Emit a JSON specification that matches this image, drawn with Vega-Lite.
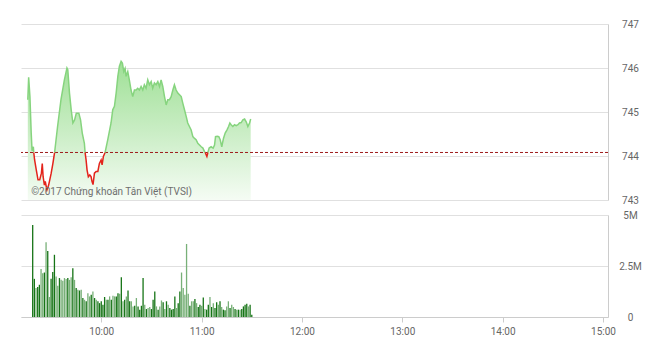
{
  "$schema": "https://vega.github.io/schema/vega-lite/v6.json",
  "padding": {"left": 20, "top": 19, "right": 0, "bottom": 0},
  "background": "white",
  "spacing": 15,
  "bounds": "flush",
  "resolve": {"scale": {"color": "independent"}},
  "config": {
    "view": {"stroke": null},
    "axis": {"labelFont": "Roboto", "labelFontSize": 10, "labelColor": "#666", "gridColor": "#e0e0e0", "domainColor": "#cccccc", "title": null}
  },
  "vconcat": [
    {
      "width": 587,
      "height": 176,
      "layer": [
        {
          "data": {"name": "price"},
          "mark": {"type": "area", "color": {"gradient": "linear", "x1": 0, "y1": 0, "x2": 0, "y2": 1, "stops": [{"offset": 0, "color": "#9fe096"}, {"offset": 0.5, "color": "#c9edc4"}, {"offset": 1, "color": "#f5fcf4"}]}},
          "encoding": {
            "x": {"field": "t", "type": "temporal", "scale": {"domain": [{"year": 2017, "month": 6, "date": 1, "hours": 9, "minutes": 15}, {"year": 2017, "month": 6, "date": 1, "hours": 15}]}, "axis": null},
            "y": {"field": "p", "type": "quantitative", "scale": {"domain": [743, 747], "zero": false, "nice": false},
              "axis": {"orient": "right", "values": [743, 744, 745, 746, 747], "grid": true, "ticks": false, "domain": true, "labelAlign": "center", "labelPadding": 22, "labelBaseline": "middle"}},
            "y2": {"datum": 743}
          }
        },
        {
          "data": {"values": [{}]},
          "mark": {"type": "rule", "color": "#9e1b1b", "strokeDash": [3, 2], "strokeWidth": 1},
          "encoding": {"y": {"datum": 744.08}}
        },
        {
          "data": {"name": "price"},
          "mark": {"type": "line", "strokeWidth": 1.5},
          "encoding": {
            "x": {"field": "t", "type": "temporal"},
            "y": {"field": "p", "type": "quantitative"},
            "color": {"field": "g", "type": "nominal", "scale": {"domain": ["g1", "r1", "g2", "r2", "g3", "r3", "g4"], "range": ["#86d47e", "#e3231b", "#86d47e", "#e3231b", "#86d47e", "#e3231b", "#86d47e"]}, "legend": null}
          }
        },
        {
          "data": {"values": [{}]},
          "mark": {"type": "text", "text": "©2017 Chứng khoán Tân Việt (TVSI)", "align": "left", "baseline": "middle", "font": "Roboto", "fontSize": 10, "color": "#6e6e6e"},
          "encoding": {
            "x": {"datum": {"year": 2017, "month": 6, "date": 1, "hours": 9, "minutes": 21}, "type": "temporal"},
            "y": {"datum": 743.18}
          }
        }
      ]
    },
    {
      "width": 587,
      "height": 102,
      "data": {"name": "volume"},
      "mark": {"type": "bar", "size": 1.3},
      "encoding": {
        "x": {"field": "t", "type": "temporal",
          "scale": {"domain": [{"year": 2017, "month": 6, "date": 1, "hours": 9, "minutes": 15}, {"year": 2017, "month": 6, "date": 1, "hours": 15}]},
          "axis": {"values": [
            {"year": 2017, "month": 6, "date": 1, "hours": 10},
            {"year": 2017, "month": 6, "date": 1, "hours": 11},
            {"year": 2017, "month": 6, "date": 1, "hours": 12},
            {"year": 2017, "month": 6, "date": 1, "hours": 13},
            {"year": 2017, "month": 6, "date": 1, "hours": 14},
            {"year": 2017, "month": 6, "date": 1, "hours": 15}],
            "format": "%H:%M", "grid": false, "ticks": true, "tickSize": 5, "tickColor": "#cccccc", "domain": true, "labelPadding": 4, "labelFlush": false, "labelOverlap": false}},
        "y": {"field": "v", "type": "quantitative", "scale": {"domain": [0, 5], "nice": false},
          "axis": {"orient": "right", "values": [0, 2.5, 5], "labelExpr": "datum.value == 0 ? '0' : datum.value + 'M'", "grid": true, "ticks": false, "domain": true, "labelAlign": "center", "labelPadding": 22, "labelBaseline": "middle"}},
        "color": {"field": "c", "type": "nominal", "scale": {"domain": ["d", "l"], "range": ["#167416", "#78b078"]}, "legend": null}
      }
    }
  ],
  "datasets": {
    "price": [
      {"g": "g1", "t": "2017-06-01T09:19:00", "p": 745.28},
      {"g": "g1", "t": "2017-06-01T09:19:30", "p": 745.79},
      {"g": "g1", "t": "2017-06-01T09:20:15", "p": 745.35},
      {"g": "g1", "t": "2017-06-01T09:21:00", "p": 744.52},
      {"g": "g1", "t": "2017-06-01T09:21:30", "p": 744.12},
      {"g": "g1", "t": "2017-06-01T09:22:15", "p": 744.21},
      {"g": "g1", "t": "2017-06-01T09:22:30", "p": 744.08},
      {"g": "r1", "t": "2017-06-01T09:22:30", "p": 744.08},
      {"g": "r1", "t": "2017-06-01T09:23:00", "p": 743.91},
      {"g": "r1", "t": "2017-06-01T09:24:00", "p": 743.68},
      {"g": "r1", "t": "2017-06-01T09:25:00", "p": 743.46},
      {"g": "r1", "t": "2017-06-01T09:26:00", "p": 743.46},
      {"g": "r1", "t": "2017-06-01T09:27:00", "p": 743.61},
      {"g": "r1", "t": "2017-06-01T09:27:30", "p": 743.83},
      {"g": "r1", "t": "2017-06-01T09:28:00", "p": 743.53},
      {"g": "r1", "t": "2017-06-01T09:28:45", "p": 743.34},
      {"g": "r1", "t": "2017-06-01T09:29:15", "p": 743.42},
      {"g": "r1", "t": "2017-06-01T09:30:15", "p": 743.23},
      {"g": "r1", "t": "2017-06-01T09:31:15", "p": 743.34},
      {"g": "r1", "t": "2017-06-01T09:32:45", "p": 743.61},
      {"g": "r1", "t": "2017-06-01T09:33:45", "p": 743.83},
      {"g": "r1", "t": "2017-06-01T09:34:45", "p": 744.08},
      {"g": "g2", "t": "2017-06-01T09:34:45", "p": 744.08},
      {"g": "g2", "t": "2017-06-01T09:36:30", "p": 744.67},
      {"g": "g2", "t": "2017-06-01T09:38:30", "p": 745.28},
      {"g": "g2", "t": "2017-06-01T09:40:30", "p": 745.73},
      {"g": "g2", "t": "2017-06-01T09:42:00", "p": 746.0},
      {"g": "g2", "t": "2017-06-01T09:42:30", "p": 745.96},
      {"g": "g2", "t": "2017-06-01T09:43:30", "p": 745.43},
      {"g": "g2", "t": "2017-06-01T09:44:30", "p": 745.05},
      {"g": "g2", "t": "2017-06-01T09:45:30", "p": 744.75},
      {"g": "g2", "t": "2017-06-01T09:46:30", "p": 744.82},
      {"g": "g2", "t": "2017-06-01T09:47:30", "p": 744.97},
      {"g": "g2", "t": "2017-06-01T09:49:00", "p": 744.97},
      {"g": "g2", "t": "2017-06-01T09:50:00", "p": 744.82},
      {"g": "g2", "t": "2017-06-01T09:51:00", "p": 744.52},
      {"g": "g2", "t": "2017-06-01T09:52:15", "p": 744.29},
      {"g": "g2", "t": "2017-06-01T09:52:40", "p": 744.08},
      {"g": "r2", "t": "2017-06-01T09:52:40", "p": 744.08},
      {"g": "r2", "t": "2017-06-01T09:53:15", "p": 743.91},
      {"g": "r2", "t": "2017-06-01T09:53:50", "p": 743.68},
      {"g": "r2", "t": "2017-06-01T09:54:35", "p": 743.53},
      {"g": "r2", "t": "2017-06-01T09:55:25", "p": 743.57},
      {"g": "r2", "t": "2017-06-01T09:56:10", "p": 743.53},
      {"g": "r2", "t": "2017-06-01T09:56:45", "p": 743.42},
      {"g": "r2", "t": "2017-06-01T09:57:20", "p": 743.35},
      {"g": "r2", "t": "2017-06-01T09:58:10", "p": 743.61},
      {"g": "r2", "t": "2017-06-01T09:59:10", "p": 743.65},
      {"g": "r2", "t": "2017-06-01T10:00:10", "p": 743.65},
      {"g": "r2", "t": "2017-06-01T10:01:05", "p": 743.83},
      {"g": "r2", "t": "2017-06-01T10:02:05", "p": 743.91},
      {"g": "r2", "t": "2017-06-01T10:02:40", "p": 743.8},
      {"g": "r2", "t": "2017-06-01T10:03:25", "p": 743.99},
      {"g": "r2", "t": "2017-06-01T10:04:25", "p": 744.08},
      {"g": "g3", "t": "2017-06-01T10:04:25", "p": 744.08},
      {"g": "g3", "t": "2017-06-01T10:06:00", "p": 744.37},
      {"g": "g3", "t": "2017-06-01T10:07:55", "p": 744.75},
      {"g": "g3", "t": "2017-06-01T10:08:55", "p": 745.05},
      {"g": "g3", "t": "2017-06-01T10:09:55", "p": 745.13},
      {"g": "g3", "t": "2017-06-01T10:10:55", "p": 745.43},
      {"g": "g3", "t": "2017-06-01T10:11:55", "p": 745.81},
      {"g": "g3", "t": "2017-06-01T10:12:50", "p": 746.04},
      {"g": "g3", "t": "2017-06-01T10:13:50", "p": 746.15},
      {"g": "g3", "t": "2017-06-01T10:14:35", "p": 746.11},
      {"g": "g3", "t": "2017-06-01T10:15:25", "p": 745.92},
      {"g": "g3", "t": "2017-06-01T10:16:10", "p": 745.99},
      {"g": "g3", "t": "2017-06-01T10:16:45", "p": 745.81},
      {"g": "g3", "t": "2017-06-01T10:17:45", "p": 745.92},
      {"g": "g3", "t": "2017-06-01T10:18:40", "p": 745.73},
      {"g": "g3", "t": "2017-06-01T10:19:40", "p": 745.5},
      {"g": "g3", "t": "2017-06-01T10:20:40", "p": 745.35},
      {"g": "g3", "t": "2017-06-01T10:21:40", "p": 745.5},
      {"g": "g3", "t": "2017-06-01T10:22:40", "p": 745.5},
      {"g": "g3", "t": "2017-06-01T10:23:35", "p": 745.54},
      {"g": "g3", "t": "2017-06-01T10:24:35", "p": 745.5},
      {"g": "g3", "t": "2017-06-01T10:25:35", "p": 745.58},
      {"g": "g3", "t": "2017-06-01T10:26:35", "p": 745.5},
      {"g": "g3", "t": "2017-06-01T10:27:30", "p": 745.62},
      {"g": "g3", "t": "2017-06-01T10:28:30", "p": 745.54},
      {"g": "g3", "t": "2017-06-01T10:29:30", "p": 745.73},
      {"g": "g3", "t": "2017-06-01T10:30:30", "p": 745.62},
      {"g": "g3", "t": "2017-06-01T10:31:30", "p": 745.69},
      {"g": "g3", "t": "2017-06-01T10:32:25", "p": 745.54},
      {"g": "g3", "t": "2017-06-01T10:33:25", "p": 745.66},
      {"g": "g3", "t": "2017-06-01T10:34:25", "p": 745.62},
      {"g": "g3", "t": "2017-06-01T10:35:25", "p": 745.69},
      {"g": "g3", "t": "2017-06-01T10:36:25", "p": 745.58},
      {"g": "g3", "t": "2017-06-01T10:37:20", "p": 745.73},
      {"g": "g3", "t": "2017-06-01T10:38:20", "p": 745.58},
      {"g": "g3", "t": "2017-06-01T10:39:20", "p": 745.35},
      {"g": "g3", "t": "2017-06-01T10:40:20", "p": 745.16},
      {"g": "g3", "t": "2017-06-01T10:41:15", "p": 745.28},
      {"g": "g3", "t": "2017-06-01T10:42:15", "p": 745.28},
      {"g": "g3", "t": "2017-06-01T10:43:15", "p": 745.35},
      {"g": "g3", "t": "2017-06-01T10:44:15", "p": 745.5},
      {"g": "g3", "t": "2017-06-01T10:45:10", "p": 745.62},
      {"g": "g3", "t": "2017-06-01T10:46:10", "p": 745.5},
      {"g": "g3", "t": "2017-06-01T10:47:10", "p": 745.43},
      {"g": "g3", "t": "2017-06-01T10:48:10", "p": 745.39},
      {"g": "g3", "t": "2017-06-01T10:49:10", "p": 745.35},
      {"g": "g3", "t": "2017-06-01T10:50:05", "p": 745.2},
      {"g": "g3", "t": "2017-06-01T10:51:05", "p": 745.05},
      {"g": "g3", "t": "2017-06-01T10:52:05", "p": 744.9},
      {"g": "g3", "t": "2017-06-01T10:53:00", "p": 744.75},
      {"g": "g3", "t": "2017-06-01T10:54:00", "p": 744.67},
      {"g": "g3", "t": "2017-06-01T10:55:00", "p": 744.59},
      {"g": "g3", "t": "2017-06-01T10:56:00", "p": 744.44},
      {"g": "g3", "t": "2017-06-01T10:57:00", "p": 744.4},
      {"g": "g3", "t": "2017-06-01T10:57:55", "p": 744.37},
      {"g": "g3", "t": "2017-06-01T10:58:55", "p": 744.29},
      {"g": "g3", "t": "2017-06-01T10:59:55", "p": 744.25},
      {"g": "g3", "t": "2017-06-01T11:00:55", "p": 744.21},
      {"g": "g3", "t": "2017-06-01T11:01:55", "p": 744.18},
      {"g": "g3", "t": "2017-06-01T11:02:50", "p": 744.1},
      {"g": "g3", "t": "2017-06-01T11:03:15", "p": 744.08},
      {"g": "r3", "t": "2017-06-01T11:03:15", "p": 744.08},
      {"g": "r3", "t": "2017-06-01T11:04:15", "p": 743.99},
      {"g": "r3", "t": "2017-06-01T11:04:50", "p": 744.08},
      {"g": "g4", "t": "2017-06-01T11:04:50", "p": 744.08},
      {"g": "g4", "t": "2017-06-01T11:05:35", "p": 744.18},
      {"g": "g4", "t": "2017-06-01T11:06:45", "p": 744.21},
      {"g": "g4", "t": "2017-06-01T11:07:55", "p": 744.18},
      {"g": "g4", "t": "2017-06-01T11:08:45", "p": 744.25},
      {"g": "g4", "t": "2017-06-01T11:09:20", "p": 744.44},
      {"g": "g4", "t": "2017-06-01T11:10:20", "p": 744.45},
      {"g": "g4", "t": "2017-06-01T11:11:15", "p": 744.44},
      {"g": "g4", "t": "2017-06-01T11:12:05", "p": 744.37},
      {"g": "g4", "t": "2017-06-01T11:13:00", "p": 744.21},
      {"g": "g4", "t": "2017-06-01T11:14:00", "p": 744.4},
      {"g": "g4", "t": "2017-06-01T11:15:00", "p": 744.52},
      {"g": "g4", "t": "2017-06-01T11:16:00", "p": 744.59},
      {"g": "g4", "t": "2017-06-01T11:17:00", "p": 744.67},
      {"g": "g4", "t": "2017-06-01T11:17:45", "p": 744.75},
      {"g": "g4", "t": "2017-06-01T11:18:30", "p": 744.71},
      {"g": "g4", "t": "2017-06-01T11:19:30", "p": 744.67},
      {"g": "g4", "t": "2017-06-01T11:20:30", "p": 744.71},
      {"g": "g4", "t": "2017-06-01T11:21:30", "p": 744.69},
      {"g": "g4", "t": "2017-06-01T11:22:30", "p": 744.71},
      {"g": "g4", "t": "2017-06-01T11:23:25", "p": 744.75},
      {"g": "g4", "t": "2017-06-01T11:24:25", "p": 744.76},
      {"g": "g4", "t": "2017-06-01T11:25:25", "p": 744.82},
      {"g": "g4", "t": "2017-06-01T11:26:25", "p": 744.84},
      {"g": "g4", "t": "2017-06-01T11:27:25", "p": 744.77},
      {"g": "g4", "t": "2017-06-01T11:28:20", "p": 744.67},
      {"g": "g4", "t": "2017-06-01T11:29:20", "p": 744.75},
      {"g": "g4", "t": "2017-06-01T11:30:00", "p": 744.84}
    ],
    "volume": [
      {"t": "2017-06-01T09:19:00", "v": 4.51, "c": "d"},
      {"t": "2017-06-01T09:20:00", "v": 1.87, "c": "d"},
      {"t": "2017-06-01T09:21:00", "v": 1.42, "c": "l"},
      {"t": "2017-06-01T09:22:00", "v": 1.47, "c": "d"},
      {"t": "2017-06-01T09:23:00", "v": 1.58, "c": "d"},
      {"t": "2017-06-01T09:24:00", "v": 2.35, "c": "l"},
      {"t": "2017-06-01T09:25:00", "v": 2.15, "c": "l"},
      {"t": "2017-06-01T09:26:00", "v": 2.18, "c": "d"},
      {"t": "2017-06-01T09:27:00", "v": 3.66, "c": "l"},
      {"t": "2017-06-01T09:28:00", "v": 3.24, "c": "d"},
      {"t": "2017-06-01T09:29:00", "v": 0.98, "c": "l"},
      {"t": "2017-06-01T09:30:00", "v": 1.87, "c": "d"},
      {"t": "2017-06-01T09:31:00", "v": 2.2, "c": "d"},
      {"t": "2017-06-01T09:32:00", "v": 3.05, "c": "d"},
      {"t": "2017-06-01T09:33:00", "v": 1.99, "c": "l"},
      {"t": "2017-06-01T09:34:00", "v": 1.53, "c": "l"},
      {"t": "2017-06-01T09:35:00", "v": 1.91, "c": "d"},
      {"t": "2017-06-01T09:36:00", "v": 1.82, "c": "l"},
      {"t": "2017-06-01T09:37:00", "v": 1.78, "c": "l"},
      {"t": "2017-06-01T09:38:00", "v": 1.91, "c": "l"},
      {"t": "2017-06-01T09:39:00", "v": 1.86, "c": "l"},
      {"t": "2017-06-01T09:40:00", "v": 1.91, "c": "d"},
      {"t": "2017-06-01T09:41:00", "v": 1.82, "c": "l"},
      {"t": "2017-06-01T09:42:00", "v": 1.95, "c": "l"},
      {"t": "2017-06-01T09:43:00", "v": 2.39, "c": "d"},
      {"t": "2017-06-01T09:44:00", "v": 1.82, "c": "l"},
      {"t": "2017-06-01T09:45:00", "v": 1.42, "c": "d"},
      {"t": "2017-06-01T09:46:00", "v": 1.34, "c": "l"},
      {"t": "2017-06-01T09:47:00", "v": 1.3, "c": "d"},
      {"t": "2017-06-01T09:48:00", "v": 1.34, "c": "l"},
      {"t": "2017-06-01T09:49:00", "v": 0.93, "c": "d"},
      {"t": "2017-06-01T09:50:00", "v": 0.85, "c": "l"},
      {"t": "2017-06-01T09:51:00", "v": 0.77, "c": "d"},
      {"t": "2017-06-01T09:52:00", "v": 1.17, "c": "l"},
      {"t": "2017-06-01T09:53:00", "v": 1.01, "c": "l"},
      {"t": "2017-06-01T09:54:00", "v": 1.09, "c": "d"},
      {"t": "2017-06-01T09:55:00", "v": 1.25, "c": "l"},
      {"t": "2017-06-01T09:56:00", "v": 0.93, "c": "d"},
      {"t": "2017-06-01T09:57:00", "v": 0.85, "c": "l"},
      {"t": "2017-06-01T09:58:00", "v": 0.77, "c": "d"},
      {"t": "2017-06-01T09:59:00", "v": 0.68, "c": "d"},
      {"t": "2017-06-01T10:00:00", "v": 0.77, "c": "d"},
      {"t": "2017-06-01T10:01:00", "v": 0.6, "c": "d"},
      {"t": "2017-06-01T10:02:00", "v": 0.98, "c": "d"},
      {"t": "2017-06-01T10:03:00", "v": 0.85, "c": "l"},
      {"t": "2017-06-01T10:04:00", "v": 0.85, "c": "d"},
      {"t": "2017-06-01T10:05:00", "v": 1.01, "c": "l"},
      {"t": "2017-06-01T10:06:00", "v": 0.85, "c": "d"},
      {"t": "2017-06-01T10:07:00", "v": 1.04, "c": "l"},
      {"t": "2017-06-01T10:08:00", "v": 1.01, "c": "l"},
      {"t": "2017-06-01T10:09:00", "v": 1.01, "c": "d"},
      {"t": "2017-06-01T10:10:00", "v": 1.17, "c": "d"},
      {"t": "2017-06-01T10:11:00", "v": 1.14, "c": "l"},
      {"t": "2017-06-01T10:12:00", "v": 1.95, "c": "d"},
      {"t": "2017-06-01T10:13:00", "v": 0.77, "c": "l"},
      {"t": "2017-06-01T10:14:00", "v": 0.85, "c": "d"},
      {"t": "2017-06-01T10:15:00", "v": 1.01, "c": "l"},
      {"t": "2017-06-01T10:16:00", "v": 1.3, "c": "d"},
      {"t": "2017-06-01T10:17:00", "v": 0.77, "c": "d"},
      {"t": "2017-06-01T10:18:00", "v": 0.77, "c": "l"},
      {"t": "2017-06-01T10:19:00", "v": 0.52, "c": "l"},
      {"t": "2017-06-01T10:20:00", "v": 0.55, "c": "d"},
      {"t": "2017-06-01T10:21:00", "v": 0.93, "c": "l"},
      {"t": "2017-06-01T10:22:00", "v": 0.52, "c": "d"},
      {"t": "2017-06-01T10:23:00", "v": 0.36, "c": "d"},
      {"t": "2017-06-01T10:24:00", "v": 0.55, "c": "d"},
      {"t": "2017-06-01T10:25:00", "v": 1.91, "c": "d"},
      {"t": "2017-06-01T10:26:00", "v": 0.6, "c": "l"},
      {"t": "2017-06-01T10:27:00", "v": 0.39, "c": "d"},
      {"t": "2017-06-01T10:28:00", "v": 0.44, "c": "l"},
      {"t": "2017-06-01T10:29:00", "v": 0.49, "c": "l"},
      {"t": "2017-06-01T10:30:00", "v": 0.39, "c": "d"},
      {"t": "2017-06-01T10:31:00", "v": 0.85, "c": "d"},
      {"t": "2017-06-01T10:32:00", "v": 1.25, "c": "d"},
      {"t": "2017-06-01T10:33:00", "v": 0.52, "c": "l"},
      {"t": "2017-06-01T10:34:00", "v": 0.36, "c": "d"},
      {"t": "2017-06-01T10:35:00", "v": 0.52, "c": "l"},
      {"t": "2017-06-01T10:36:00", "v": 0.81, "c": "l"},
      {"t": "2017-06-01T10:37:00", "v": 0.72, "c": "d"},
      {"t": "2017-06-01T10:38:00", "v": 0.39, "c": "l"},
      {"t": "2017-06-01T10:39:00", "v": 0.77, "c": "d"},
      {"t": "2017-06-01T10:40:00", "v": 0.6, "c": "l"},
      {"t": "2017-06-01T10:41:00", "v": 0.44, "c": "d"},
      {"t": "2017-06-01T10:42:00", "v": 0.36, "c": "d"},
      {"t": "2017-06-01T10:43:00", "v": 0.39, "c": "d"},
      {"t": "2017-06-01T10:44:00", "v": 1.01, "c": "d"},
      {"t": "2017-06-01T10:45:00", "v": 0.44, "c": "l"},
      {"t": "2017-06-01T10:46:00", "v": 0.68, "c": "d"},
      {"t": "2017-06-01T10:47:00", "v": 1.25, "c": "d"},
      {"t": "2017-06-01T10:48:00", "v": 2.18, "c": "l"},
      {"t": "2017-06-01T10:49:00", "v": 1.42, "c": "l"},
      {"t": "2017-06-01T10:50:00", "v": 1.09, "c": "l"},
      {"t": "2017-06-01T10:51:00", "v": 3.58, "c": "l"},
      {"t": "2017-06-01T10:52:00", "v": 1.14, "c": "l"},
      {"t": "2017-06-01T10:53:00", "v": 0.55, "c": "d"},
      {"t": "2017-06-01T10:54:00", "v": 0.77, "c": "l"},
      {"t": "2017-06-01T10:55:00", "v": 0.77, "c": "l"},
      {"t": "2017-06-01T10:56:00", "v": 0.88, "c": "d"},
      {"t": "2017-06-01T10:57:00", "v": 0.68, "c": "l"},
      {"t": "2017-06-01T10:58:00", "v": 0.49, "c": "d"},
      {"t": "2017-06-01T10:59:00", "v": 0.6, "c": "d"},
      {"t": "2017-06-01T11:00:00", "v": 0.55, "c": "l"},
      {"t": "2017-06-01T11:01:00", "v": 0.96, "c": "d"},
      {"t": "2017-06-01T11:02:00", "v": 0.39, "c": "l"},
      {"t": "2017-06-01T11:03:00", "v": 0.36, "c": "d"},
      {"t": "2017-06-01T11:04:00", "v": 0.6, "c": "d"},
      {"t": "2017-06-01T11:05:00", "v": 0.98, "c": "l"},
      {"t": "2017-06-01T11:06:00", "v": 0.49, "c": "d"},
      {"t": "2017-06-01T11:07:00", "v": 0.68, "c": "l"},
      {"t": "2017-06-01T11:08:00", "v": 0.44, "c": "d"},
      {"t": "2017-06-01T11:09:00", "v": 0.72, "c": "d"},
      {"t": "2017-06-01T11:10:00", "v": 0.6, "c": "l"},
      {"t": "2017-06-01T11:11:00", "v": 0.77, "c": "d"},
      {"t": "2017-06-01T11:12:00", "v": 0.49, "c": "l"},
      {"t": "2017-06-01T11:13:00", "v": 0.36, "c": "d"},
      {"t": "2017-06-01T11:14:00", "v": 0.33, "c": "d"},
      {"t": "2017-06-01T11:15:00", "v": 0.52, "c": "l"},
      {"t": "2017-06-01T11:16:00", "v": 0.77, "c": "l"},
      {"t": "2017-06-01T11:17:00", "v": 0.44, "c": "d"},
      {"t": "2017-06-01T11:18:00", "v": 0.6, "c": "l"},
      {"t": "2017-06-01T11:19:00", "v": 0.49, "c": "l"},
      {"t": "2017-06-01T11:20:00", "v": 0.39, "c": "d"},
      {"t": "2017-06-01T11:21:00", "v": 0.36, "c": "l"},
      {"t": "2017-06-01T11:22:00", "v": 0.36, "c": "d"},
      {"t": "2017-06-01T11:23:00", "v": 0.36, "c": "l"},
      {"t": "2017-06-01T11:24:00", "v": 0.39, "c": "d"},
      {"t": "2017-06-01T11:25:00", "v": 0.52, "c": "d"},
      {"t": "2017-06-01T11:26:00", "v": 0.6, "c": "d"},
      {"t": "2017-06-01T11:27:00", "v": 0.65, "c": "d"},
      {"t": "2017-06-01T11:28:00", "v": 0.52, "c": "l"},
      {"t": "2017-06-01T11:29:00", "v": 0.6, "c": "d"},
      {"t": "2017-06-01T11:30:00", "v": 0.11, "c": "d"}
    ]
  }
}
